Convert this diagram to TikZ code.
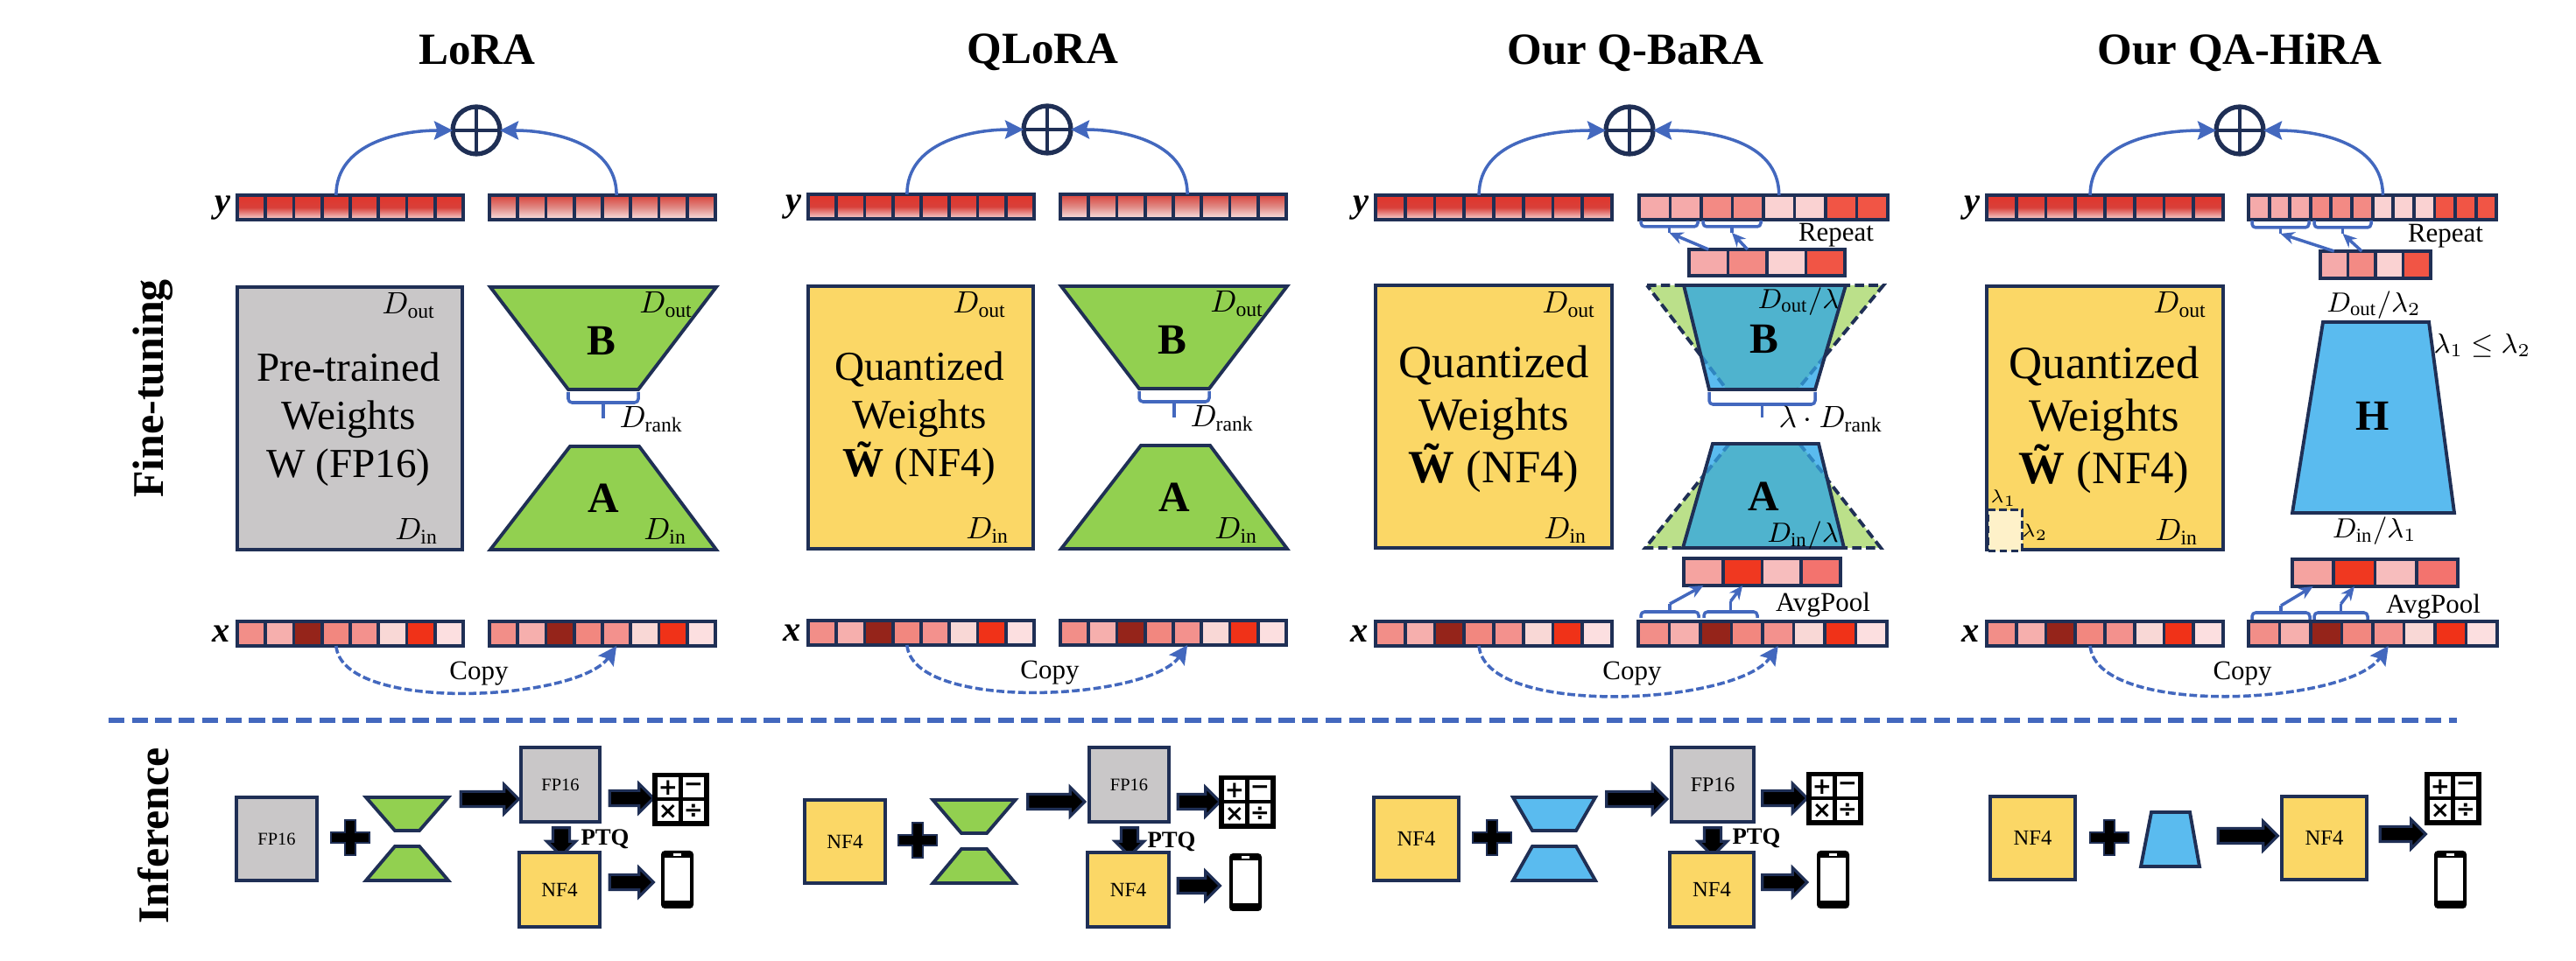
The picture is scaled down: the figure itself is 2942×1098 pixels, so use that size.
\documentclass[tikz,border=0pt]{standalone}
\usepackage{fontspec}
\setmainfont{Liberation Serif}
\newfontfamily\signfont{DejaVu Sans}
\usetikzlibrary{arrows.meta,shapes.arrows}

\definecolor{navyline}{HTML}{1F2F55}
\definecolor{linkblue}{HTML}{4368BE}
\definecolor{grayfill}{HTML}{C9C7C8}
\definecolor{quantyellow}{HTML}{FBD766}
\definecolor{loragreen}{HTML}{92D050}
\definecolor{palegreen}{HTML}{BBE08A}
\definecolor{hirablue}{HTML}{5ABBEF}
\definecolor{mixteal}{HTML}{4FB3CE}
\definecolor{dashblue}{HTML}{2F86C0}
\definecolor{xa}{HTML}{F28E88}
\definecolor{xb}{HTML}{F6AFAD}
\definecolor{xc}{HTML}{95241A}
\definecolor{xd}{HTML}{F2877F}
\definecolor{xe}{HTML}{F3918D}
\definecolor{xf}{HTML}{F9D8D6}
\definecolor{xg}{HTML}{F03218}
\definecolor{xh}{HTML}{FCDFE0}
\definecolor{ra}{HTML}{F5AAAA}
\definecolor{rb}{HTML}{F38A84}
\definecolor{rc}{HTML}{FAD2D2}
\definecolor{rd}{HTML}{F15545}
\definecolor{pa}{HTML}{F5A3A0}
\definecolor{pb}{HTML}{F03820}
\definecolor{pc}{HTML}{F7BDBD}
\definecolor{pd}{HTML}{F3736E}
\definecolor{ytop}{HTML}{E2342A}
\definecolor{ymid}{HTML}{D8403A}
\definecolor{ybot}{HTML}{F7D8D8}
\definecolor{ztop}{HTML}{D9423A}
\definecolor{zmid}{HTML}{E08A85}
\definecolor{zbot}{HTML}{FBE6E6}

\newcommand{\blankcells}{white,white,white,white,white,white,white,white}
\newcommand{\xcolors}{xa,xb,xc,xd,xe,xf,xg,xh}

\tikzset{
  boxsize/.style 2 args={minimum width=#1*0.01cm,minimum height=#2*0.01cm},
  veccell/.style={draw=navyline,line width=1.1pt,inner sep=0pt,outer sep=0pt,anchor=north west},
  yleft/.style={top color=ytop,bottom color=ybot,middle color=ymid},
  yright/.style={top color=ztop,bottom color=zbot,middle color=zmid},
  panelbox/.style={draw=navyline,line width=1.1pt,inner sep=0pt,outer sep=0pt},
  trapline/.style={draw=navyline,line width=1.1pt,line join=miter},
  shrinkedge/.style={draw=navyline,line width=1.1pt,dash pattern=on 3pt off 1.5pt},
  sumnode/.style={circle,draw=navyline,line width=1.5pt,minimum size=54*0.01cm,inner sep=0pt,outer sep=0pt},
  sumline/.style={draw=navyline,line width=1.3pt},
  bluearrow/.style={draw=linkblue,line width=1pt,-{Stealth[length=6pt,width=6pt,inset=1pt]}},
  copyarrow/.style={draw=linkblue,line width=1pt,dash pattern=on 2.5pt off 1pt,-{Stealth[length=6pt,width=6pt,inset=1pt]}},
  smallarrow/.style={draw=linkblue,line width=1pt,-{Stealth[length=4.5pt,width=4pt]}},
  braceline/.style={draw=linkblue,line width=1pt,rounded corners=1.2pt},
  titletext/.style={font=\fontsize{14.5}{16}\bfseries\selectfont,inner sep=0pt,anchor=base},
  sidelabel/.style={font=\fontsize{14.2}{16}\bfseries\selectfont,inner sep=0pt,rotate=90},
  veclabel/.style={font=\fontsize{11.5}{14}\bfseries\itshape\selectfont,inner sep=0pt},
  boldletter/.style={font=\fontsize{14}{16}\bfseries\selectfont,inner sep=0pt},
  plaintext/.style={font=\fontsize{8.8}{10}\selectfont,inner sep=0pt},
  mathlabel/.style={font=\fontsize{9.6}{11}\selectfont,inner sep=0pt},
  smalllabel/.style={font=\fontsize{6.2}{7}\selectfont,inner sep=0pt},
  boxtext/.style={align=center,inner sep=0pt},
  fatarrow/.style={single arrow,draw=navyline,fill=black,line width=.9pt,inner xsep=0pt,
    inner ysep=7*0.01cm,outer sep=0pt,single arrow head extend=8*0.01cm},
  downarrow/.style={fatarrow,shape border rotate=270,inner xsep=8*0.01cm,inner ysep=0pt,
    single arrow head extend=7*0.01cm},
  iconbody/.style={fill=black,inner sep=0pt,outer sep=0pt,anchor=north west},
  calcbtn/.style={fill=white,inner sep=0pt,boxsize={24}{23},font=\fontsize{7.5}{8}\signfont\bfseries\selectfont},
  phonepart/.style={fill=white,inner sep=0pt},
  ptqtext/.style={font=\fontsize{7.6}{9}\bfseries\selectfont,inner sep=0pt},
  sepline/.style={draw=linkblue,line width=1.7pt,dash pattern=on 5.2pt off 2.4pt}
}

\newcommand{\cellbar}[7][]{%
  \edef\barcolors{#7}%
  \foreach \col [count=\n] in \barcolors {
    \pgfmathsetmacro{\cellx}{#3+(\n-1)*#5}
    \node[veccell,boxsize={#5}{#6},fill=\col,#1] (#2-\n) at (\cellx,#4) {};
  }
}

\newcommand{\groupbrace}[6]{%
  \draw[braceline] (#2,#4) -- (#2,#5) -- (#3,#5) -- (#3,#4);
  \draw[draw=linkblue,line width=1pt] ({(#2+#3)/2},#5) -- ({(#2+#3)/2},#6) coordinate (#1);
}

\newcommand{\sumpart}[7]{%
  \cellbar[yleft]{yl}{#4}{223}{#5}{28}{\blankcells}
  \cellbar{xl}{#4}{710}{#5}{28}{\xcolors}
  \node[titletext] (title) at (#2,74) {#1};
  \node[sumnode] (sum) at (#3,149) {};
  \draw[sumline] (sum.north) -- (sum.south) (sum.west) -- (sum.east);
  \node[veclabel] (ylab) at (#4-17,238) {y};
  \node[veclabel] (xlab) at (#4-18,724) {x};
  \draw[bluearrow] (yl-4.north) to[out=90,in=180] (sum.west);
  \draw[bluearrow] (#6.north) to[out=90,in=0] (sum.east);
  \draw[copyarrow] (xl-4.south) to[out=-85,in=-125,looseness=.62] (#7.south);
  \node[plaintext] (copy) at (#3+3,770) {Copy};
}

\newcommand{\lorablock}[3]{%
  \node[panelbox,boxsize={257}{300},fill=#1,anchor=north west] (wbox) at (271,328) {};
  \node[mathlabel] (doutw) at (467,349) {$D_{\mathrm{out}}$};
  \node[mathlabel] (dinw) at (476,607) {$D_{\mathrm{in}}$};
  \node[boxtext,font=\fontsize{#3}{15.7}\selectfont] (wtext) at (398,479) {#2};
  \cellbar[yright]{yr}{559}{223}{32.25}{28}{\blankcells}
  \cellbar{xr}{559}{710}{32.25}{28}{\xcolors}
  \draw[trapline,fill=loragreen] (560,328) -- (818,328) -- (729,445) -- (649,445) -- cycle;
  \draw[trapline,fill=loragreen] (651,510) -- (730,510) -- (818,628) -- (560,628) -- cycle;
  \node[boldletter] (bname) at (687,389) {B};
  \node[boldletter] (aname) at (689,569) {A};
  \node[mathlabel] (doutb) at (761,348) {$D_{\mathrm{out}}$};
  \node[mathlabel] (dina) at (760,607) {$D_{\mathrm{in}}$};
  \groupbrace{rankmark}{649}{729}{448}{460}{478}
  \node[mathlabel] (drank) at (744,479) {$D_{\mathrm{rank}}$};
}

\newcommand{\minipair}[4]{%
  \draw[trapline,fill=#1] (#2-47,#3) -- (#2+47,#3) -- (#2+#4,#3+38) -- (#2-#4,#3+38) -- cycle;
  \draw[trapline,fill=#1] (#2-#4,#3+56) -- (#2+#4,#3+56) -- (#2+47,#3+95) -- (#2-47,#3+95) -- cycle;
}

\newcommand{\plusmark}[2]{%
  \draw[shift={(#1,#2)},draw=navyline,line width=.8pt,fill=black] (-6,-20) -- (6,-20) -- (6,-6) -- (22,-6)
    -- (22,6) -- (6,6) -- (6,20) -- (-6,20) -- (-6,6) -- (-22,6) -- (-22,-6) -- (-6,-6) -- cycle;
}

\newcommand{\calcicon}[3]{%
  \node[iconbody,boxsize={65}{61}] (#1) at (#2,#3) {};
  \node[calcbtn] (#1-1) at (#2+18,#3+17) {+};
  \node[calcbtn] (#1-2) at (#2+47,#3+17) {−};
  \node[calcbtn] (#1-3) at (#2+18,#3+44) {×};
  \node[calcbtn] (#1-4) at (#2+47,#3+44) {÷};
}

\newcommand{\phoneicon}[3]{%
  \node[iconbody,boxsize={37}{66},rounded corners=1.2pt] (#1) at (#2,#3) {};
  \node[phonepart,boxsize={29}{49}] (#1-s) at (#2+18.5,#3+33) {};
  \node[phonepart,boxsize={9}{3}] (#1-d) at (#2+18.5,#3+4.5) {};
}

\begin{document}
\begin{tikzpicture}[x=0.01cm,y=-0.01cm]
  \useasboundingbox (0,0) rectangle (2942,1098);

  \node[sidelabel] (finetuning) at (175,444) {Fine-tuning};
  \node[sidelabel] (inference) at (175,955) {Inference};

  \begin{scope}[name prefix=a-]
    \lorablock{grayfill}{Pre-trained\\Weights\\W (FP16)}{13.4}
    \sumpart{LoRA}{545}{544}{271}{32.25}{yr-5}{xr-5}
  \end{scope}

  \begin{scope}[shift={(652,-1)},name prefix=b-]
    \lorablock{quantyellow}{Quantized\\Weights\\{\bfseries\~{W}} (NF4)}{13.4}
    \sumpart{QLoRA}{539}{544}{271}{32.25}{yr-5}{xr-5}
  \end{scope}

  \begin{scope}[name prefix=c-]
    \node[panelbox,boxsize={270}{300},fill=quantyellow,anchor=north west] (wbox) at (1571,326) {};
    \node[mathlabel] (doutw) at (1792,348) {$D_{\mathrm{out}}$};
    \node[mathlabel] (dinw) at (1788,606) {$D_{\mathrm{in}}$};
    \node[boxtext,font=\fontsize{15}{17}\selectfont] (wtext) at (1706,479) {Quantized\\Weights\\{\bfseries\~{W}} (NF4)};
    \cellbar{yr}{1872}{223}{35.5}{28}{ra,ra,rb,rb,rc,rc,rd,rd}
    \cellbar{ys}{1929}{285}{44.5}{30}{ra,rb,rc,rd}
    \cellbar{xr}{1871}{710}{35.5}{28}{\xcolors}
    \cellbar{xp}{1923}{638}{44.75}{31}{pa,pb,pc,pd}
    \sumpart{Our Q-BaRA}{1868}{1861}{1571}{33.75}{yr-5}{xr-5}
    \groupbrace{repa}{1874}{1939}{252}{259}{266}
    \groupbrace{repb}{1945}{2011}{252}{259}{266}
    \draw[smallarrow] (ys-1.north) -- (repa);
    \draw[smallarrow] (ys-2.north) -- (repb);
    \node[plaintext] (repeat) at (2097,269) {Repeat};
    \groupbrace{poola}{1874}{1940}{706}{699}{690}
    \groupbrace{poolb}{1946}{2007}{706}{699}{687}
    \draw[smallarrow] (poola) -- (xp-1.south);
    \draw[smallarrow] (poolb) -- (xp-2.south);
    \node[plaintext] (avgpool) at (2082,691) {AvgPool};
    \draw[shrinkedge,fill=palegreen] (1881,326) -- (2151,326) -- (2053,445) -- (1972,445) -- cycle;
    \fill[hirablue] (1923,326) -- (2108,326) -- (2073,445) -- (1952,445) -- cycle;
    \fill[mixteal] (1923,326) -- (2108,326) -- (2084,407) -- (2053,445) -- (1972,445) -- (1943,407) -- cycle;
    \draw[draw=dashblue,line width=1.1pt,dash pattern=on 3pt off 1.5pt] (1943,407) -- (1972,445) (2084,407) -- (2053,445);
    \draw[trapline] (1923,326) -- (2108,326) -- (2073,445) -- (1952,445) -- cycle;
    \draw[shrinkedge,fill=palegreen] (1975,507) -- (2055,507) -- (2148,626) -- (1879,626) -- cycle;
    \fill[hirablue] (1956,507) -- (2077,507) -- (2106,626) -- (1922,626) -- cycle;
    \fill[mixteal] (1975,507) -- (2055,507) -- (2088,548) -- (2106,626) -- (1922,626) -- (1943,547) -- cycle;
    \draw[draw=dashblue,line width=1.1pt,dash pattern=on 3pt off 1.5pt] (1975,507) -- (1943,547) (2055,507) -- (2088,548);
    \draw[trapline] (1956,507) -- (2077,507) -- (2106,626) -- (1922,626) -- cycle;
    \node[boldletter] (bname) at (2015,387) {B};
    \node[boldletter] (aname) at (2014,567) {A};
    \node[mathlabel,font=\fontsize{9.2}{11}\selectfont] (doutb) at (2054,345) {$D_{\mathrm{out}}/\lambda$};
    \node[mathlabel,font=\fontsize{9.2}{11}\selectfont] (dina) at (2059,612) {$D_{\mathrm{in}}/\lambda$};
    \groupbrace{rankmark}{1952}{2073}{448}{462}{477}
    \node[mathlabel] (drank) at (2091,479) {$\lambda\cdot D_{\mathrm{rank}}$};
  \end{scope}

  \begin{scope}[name prefix=d-]
    \node[panelbox,boxsize={270}{301},fill=quantyellow,anchor=north west] (wbox) at (2269,327) {};
    \node[mathlabel] (doutw) at (2490,348) {$D_{\mathrm{out}}$};
    \node[mathlabel] (dinw) at (2486,608) {$D_{\mathrm{in}}$};
    \node[boxtext,font=\fontsize{15}{17}\selectfont] (wtext) at (2403,480) {Quantized\\Weights\\{\bfseries\~{W}} (NF4)};
    \node[draw=navyline,line width=.9pt,dash pattern=on 2.5pt off 1.2pt,fill=quantyellow!35,boxsize={39}{47},anchor=north west,inner sep=0pt] (patch) at (2269,581) {};
    \node[smalllabel] (lamone) at (2288,569) {$\lambda_1$};
    \node[smalllabel] (lamtwo) at (2324,608) {$\lambda_2$};
    \cellbar{yr}{2568}{223}{23.6}{28}{ra,ra,ra,rb,rb,rb,rc,rc,rc,rd,rd,rd}
    \cellbar{ys}{2650}{287}{31.5}{31}{ra,rb,rc,rd}
    \cellbar{xr}{2568}{710}{35.5}{28}{\xcolors}
    \cellbar{xp}{2618}{639}{47.25}{31}{pa,pb,pc,pd}
    \sumpart{Our QA-HiRA}{2558}{2558}{2269}{33.75}{yr-7}{xr-5}
    \groupbrace{repa}{2572}{2637}{252}{260}{267}
    \groupbrace{repb}{2643}{2708}{252}{260}{267}
    \draw[smallarrow] (ys-1.north) -- (repa);
    \draw[smallarrow] (ys-2.north) -- (repb);
    \node[plaintext] (repeat) at (2793,270) {Repeat};
    \groupbrace{poola}{2572}{2638}{708}{700}{692}
    \groupbrace{poolb}{2643}{2704}{708}{700}{690}
    \draw[smallarrow] (poola) -- (xp-1.south);
    \draw[smallarrow] (poolb) -- (xp-2.south);
    \node[plaintext] (avgpool) at (2779,693) {AvgPool};
    \draw[trapline,fill=hirablue] (2653,368) -- (2774,368) -- (2803,586) -- (2618,586) -- cycle;
    \node[boldletter] (hname) at (2710,475) {H};
    \node[mathlabel,font=\fontsize{9.2}{11}\selectfont] (douth) at (2711,349) {$D_{\mathrm{out}}/\lambda_2$};
    \node[mathlabel,font=\fontsize{9.2}{11}\selectfont] (dinh) at (2712,607) {$D_{\mathrm{in}}/\lambda_1$};
    \node[mathlabel,font=\fontsize{8.6}{10}\selectfont] (lamrel) at (2835,395) {$\lambda_1\leq\lambda_2$};
  \end{scope}

  \coordinate (sepa) at (124,823);
  \coordinate (sepb) at (2806,823);
  \draw[sepline] (sepa) -- (sepb);

  \begin{scope}[name prefix=e-]
    \node[panelbox,boxsize={92}{95},fill=grayfill,font=\fontsize{5.8}{7}\selectfont] (srcw) at (316,958.5) {FP16};
    \plusmark{400}{957}
    \minipair{loragreen}{465}{911}{14}
    \node[fatarrow,minimum height=66*0.01cm] (toadd) at (555,913) {};
    \node[panelbox,boxsize={90}{85},fill=grayfill,font=\fontsize{5.8}{7}\selectfont] (fpw) at (640,896.5) {FP16};
    \node[fatarrow,minimum height=50*0.01cm] (tocalc) at (717,912) {};
    \calcicon{calc}{745}{883}
    \node[downarrow,minimum height=32*0.01cm] (toptq) at (641,957) {};
    \node[ptqtext] (ptq) at (691,959) {PTQ};
    \node[panelbox,boxsize={92}{85},fill=quantyellow,font=\fontsize{6.6}{8}\selectfont] (nfw) at (639,1016.5) {NF4};
    \node[fatarrow,minimum height=50*0.01cm] (tophone) at (717,1008) {};
    \phoneicon{phone}{755}{972}
  \end{scope}

  \begin{scope}[name prefix=f-]
    \node[panelbox,boxsize={92}{95},fill=quantyellow,font=\fontsize{6.6}{8}\selectfont] (srcw) at (965,961.5) {NF4};
    \plusmark{1048}{960}
    \minipair{loragreen}{1112.5}{914}{14.5}
    \node[fatarrow,minimum height=65*0.01cm] (toadd) at (1202,916) {};
    \node[panelbox,boxsize={91}{85},fill=grayfill,font=\fontsize{5.8}{7}\selectfont] (fpw) at (1289.5,896.5) {FP16};
    \node[fatarrow,minimum height=48*0.01cm] (tocalc) at (1365,916) {};
    \calcicon{calc}{1392}{886}
    \node[downarrow,minimum height=32*0.01cm] (toptq) at (1290,957) {};
    \node[ptqtext] (ptq) at (1338,962) {PTQ};
    \node[panelbox,boxsize={93}{85},fill=quantyellow,font=\fontsize{6.6}{8}\selectfont] (nfw) at (1288.5,1016.5) {NF4};
    \node[fatarrow,minimum height=48*0.01cm] (tophone) at (1365,1012) {};
    \phoneicon{phone}{1404}{975}
  \end{scope}

  \begin{scope}[name prefix=g-]
    \node[panelbox,boxsize={97}{95},fill=quantyellow,font=\fontsize{7}{8}\selectfont] (srcw) at (1617.5,958.5) {NF4};
    \plusmark{1704}{957}
    \minipair{hirablue}{1775}{911}{25}
    \node[fatarrow,minimum height=69*0.01cm] (toadd) at (1865,913) {};
    \node[panelbox,boxsize={94}{85},fill=grayfill,font=\fontsize{6.8}{8}\selectfont] (fpw) at (1956,896.5) {FP16};
    \node[fatarrow,minimum height=51*0.01cm] (tocalc) at (2034,912) {};
    \calcicon{calc}{2063}{882}
    \node[downarrow,minimum height=32*0.01cm] (toptq) at (1956,957) {};
    \node[ptqtext] (ptq) at (2006,958) {PTQ};
    \node[panelbox,boxsize={96}{85},fill=quantyellow,font=\fontsize{7}{8}\selectfont] (nfw) at (1955,1016.5) {NF4};
    \node[fatarrow,minimum height=51*0.01cm] (tophone) at (2034,1008) {};
    \phoneicon{phone}{2075}{972}
  \end{scope}

  \begin{scope}[name prefix=h-]
    \node[panelbox,boxsize={97}{95},fill=quantyellow,font=\fontsize{7}{8}\selectfont] (srcw) at (2321.5,957.5) {NF4};
    \plusmark{2409}{957}
    \draw[trapline,fill=hirablue] (2457,928) -- (2501,928) -- (2512,990) -- (2445,990) -- cycle;
    \node[fatarrow,minimum height=68*0.01cm] (toadd) at (2563,955) {};
    \node[panelbox,boxsize={97}{95},fill=quantyellow,font=\fontsize{7}{8}\selectfont] (nfw) at (2654.5,957.5) {NF4};
    \node[fatarrow,minimum height=52*0.01cm] (tocalc) at (2740,953) {};
    \calcicon{calc}{2769}{882}
    \phoneicon{phone}{2780}{972}
  \end{scope}
\end{tikzpicture}
\end{document}
